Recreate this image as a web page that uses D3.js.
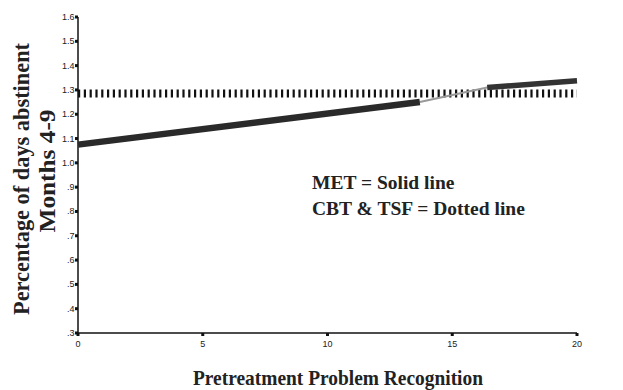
<!DOCTYPE html>
<html><head><meta charset="utf-8">
<script src="https://cdn.jsdelivr.net/npm/d3@7"></script>
<style>body{margin:0;background:#fff}</style>
</head><body>
<svg id="c" width="623" height="390"></svg>
<script>
const xTicks = [0, 5, 10, 15, 20];
const yTicks = [0.3,0.4,0.5,0.6,0.7,0.8,0.9,1.0,1.1,1.2,1.3,1.4,1.5,1.6];
const yTickLabels = [".3",".4",".5",".6",".7",".8",".9","1.0","1.1","1.2","1.3","1.4","1.5","1.6"];
// MET (solid) line as printed: left part and right part (faded where it meets the dotted line)
const metLeftX = [0, 13.7];
const metLeftY = [1.075, 1.250];
const metRightX = [16.4, 20];
const metRightY = [1.310, 1.338];
const cbtX = [0, 20];
const cbtY = [1.285, 1.285];

const svg = d3.select("#c");
const x = d3.scaleLinear().domain([0,20]).range([78,577]);
const y = d3.scaleLinear().domain([0.3,1.6]).range([333,17]);

const g = svg.append("g");
g.append("line").attr("x1",x(0)).attr("x2",x(0)).attr("y1",y(1.6)).attr("y2",y(0.3)).attr("stroke","#111").attr("stroke-width",1.5);
g.append("line").attr("x1",x(0)).attr("x2",x(20)).attr("y1",y(0.3)).attr("y2",y(0.3)).attr("stroke","#111").attr("stroke-width",1.5);
yTicks.forEach((v,i)=>{
  g.append("rect").attr("x",x(0)-3).attr("y",y(v)-1.5).attr("width",3).attr("height",3).attr("fill","#111");
  g.append("text").attr("x",x(0)-3.5).attr("y",y(v)+3).attr("text-anchor","end")
   .attr("font-family","Liberation Sans, Arial, sans-serif").attr("font-size",9).attr("fill","#222").text(yTickLabels[i]);
});
xTicks.forEach(v=>{
  g.append("rect").attr("x",x(v)-1.5).attr("y",y(0.3)).attr("width",3).attr("height",3).attr("fill","#111");
  g.append("text").attr("x",x(v)).attr("y",y(0.3)+14).attr("text-anchor","middle")
   .attr("font-family","Liberation Sans, Arial, sans-serif").attr("font-size",9).attr("fill","#222").text(v);
});

const line = d3.line().x(d=>x(d[0])).y(d=>y(d[1]));
svg.append("path").datum(cbtX.map((v,i)=>[v,cbtY[i]])).attr("d",line)
  .attr("stroke","#111").attr("stroke-width",8).attr("stroke-dasharray","2.2,3.6").attr("fill","none");
// faint connecting trace
svg.append("path").datum([[metLeftX[1],metLeftY[1]],[metRightX[0],metRightY[0]]]).attr("d",line)
  .attr("stroke","#999").attr("stroke-width",2).attr("fill","none");
svg.append("path").datum(metLeftX.map((v,i)=>[v,metLeftY[i]])).attr("d",line)
  .attr("stroke","#2a2a2a").attr("stroke-width",6.5).attr("fill","none");
svg.append("path").datum(metRightX.map((v,i)=>[v,metRightY[i]])).attr("d",line)
  .attr("stroke","#333").attr("stroke-width",5.5).attr("fill","none");

const serif = "Liberation Serif, Times New Roman, serif";
svg.append("text").attr("x",338).attr("y",385).attr("text-anchor","middle")
  .attr("font-family",serif).attr("font-weight","bold").attr("font-size",21).attr("fill","#222")
  .attr("textLength",290).attr("lengthAdjust","spacingAndGlyphs")
  .text("Pretreatment Problem Recognition");
svg.append("text").attr("transform","translate(29,179) rotate(-90)").attr("text-anchor","middle")
  .attr("font-family",serif).attr("font-weight","bold").attr("font-size",24).attr("fill","#222")
  .attr("textLength",272).attr("lengthAdjust","spacingAndGlyphs")
  .text("Percentage of days abstinent");
svg.append("text").attr("transform","translate(55,171) rotate(-90)").attr("text-anchor","middle")
  .attr("font-family",serif).attr("font-weight","bold").attr("font-size",24).attr("fill","#222")
  .attr("textLength",123).attr("lengthAdjust","spacingAndGlyphs")
  .text("Months 4-9");

svg.append("text").attr("x",312).attr("y",189)
  .attr("font-family",serif).attr("font-weight","bold").attr("font-size",19.5).attr("fill","#222")
  .text("MET = Solid line");
svg.append("text").attr("x",312).attr("y",215)
  .attr("font-family",serif).attr("font-weight","bold").attr("font-size",19.5).attr("fill","#222")
  .text("CBT & TSF = Dotted line");
</script>
</body></html>
